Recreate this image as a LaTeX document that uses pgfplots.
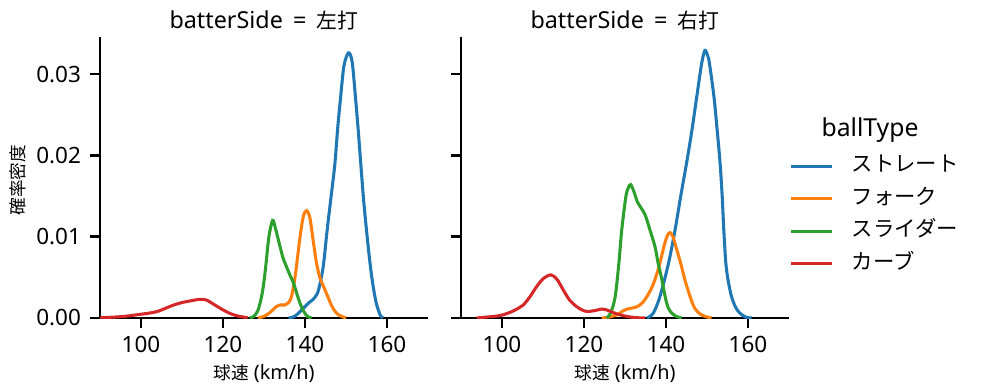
\documentclass[border=0pt]{standalone}
\usepackage{pgfplots}
\pgfplotsset{compat=1.18}
\usepackage{fontspec}
\setmainfont{Noto Sans}
\newfontfamily\jp{Noto Sans CJK JP}
\definecolor{tabblue}{HTML}{1F77B4}
\definecolor{taborange}{HTML}{FF7F0E}
\definecolor{tabgreen}{HTML}{2CA02C}
\definecolor{tabred}{HTML}{D62728}
\newcommand{\jpt}[1]{{\jp\fontsize{15}{18}\selectfont #1}}
\newcommand{\jpl}[1]{{\jp\fontsize{12.7}{15}\selectfont #1}}
\pgfplotsset{
  /pgf/number format/assume math mode=true,
  kde/.style={
    scale only axis, width=236.16pt, height=202.32pt,
    xmin=90, xmax=170, ymin=0, ymax=0.03455,
    axis lines=left, axis line style={-, line width=1.9pt, black},
    tick align=outside, major tick length=7.2pt,
    tick style={line width=1.9pt, black},
    xtick={100,120,140,160}, ytick={0,0.01,0.02,0.03},
    scaled y ticks=false,
    yticklabel style={/pgf/number format/fixed, /pgf/number format/fixed zerofill, /pgf/number format/precision=2, inner sep=0pt, xshift=-6.3pt},
    xticklabel style={inner sep=0pt, yshift=-5.8pt},
    ticklabel style={font=\fontsize{16.2}{19}\selectfont},
    title style={at={(axis description cs:0.5,1)}, anchor=base, yshift=0pt, font=\fontsize{16.8}{20}\selectfont},
    xlabel style={at={(axis description cs:0.5,0)}, anchor=base, yshift=-44.3pt, font=\fontsize{14.3}{17}\selectfont},
    ylabel style={at={(axis description cs:-0.25,0.49)}, anchor=center, font=\fontsize{14.3}{17}\selectfont},
    every axis plot/.append style={line width=2.2pt, smooth, tension=0.5},
    clip=true,
  }
}
\begin{document}
\begin{tikzpicture}
\useasboundingbox (0,0) rectangle (707.76pt,281.52pt);
% left panel
\begin{axis}[kde, at={(72pt,52.56pt)}, anchor=south west,
  title={batterSide\hspace{3pt} = \hspace{3pt}\jpt{左打}}, xlabel={\jpl{球速} (km/h)}, ylabel={\jpl{確率密度}}]
\addplot[tabblue] coordinates {
(136,0) (137,0.0001) (138,0.0004) (139,0.0009) (140,0.0014) (141,0.0019) (142,0.0023) (143,0.0030) (143.7,0.0043) (144.5,0.0065) (145.4,0.0108) (146.5,0.0155) (147.3,0.019) (148,0.0235) (148.7,0.0272) (149.5,0.031) (150.6,0.0326) (151.5,0.0315) (152.3,0.0272) (153,0.0230) (153.6,0.019) (154.3,0.0145) (155,0.0108) (155.8,0.007) (156.5,0.0043) (157.3,0.002) (158.3,0.0004) (159,0)};
\addplot[taborange] coordinates {
(128.5,0) (130,0.0002) (131.5,0.0007) (133,0.0014) (134,0.0016) (135,0.0016) (136,0.0019) (136.7,0.0026) (137.5,0.0048) (138,0.0067) (138.8,0.0100) (139.6,0.0125) (140.4,0.0132) (141.2,0.0123) (142,0.0095) (142.8,0.0068) (143.6,0.0050) (144.5,0.0039) (145.5,0.0027) (146.5,0.0015) (147.5,0.0007) (148.5,0.0003) (150,0)};
\addplot[tabgreen] coordinates {
(126.5,0) (127.5,0.0002) (128.5,0.0009) (129.4,0.0026) (130,0.0045) (130.5,0.0067) (131.2,0.0100) (132.1,0.0120) (132.8,0.0110) (133.9,0.0088) (134.7,0.0073) (135.5,0.0063) (136.3,0.0053) (137.2,0.0043) (138,0.0030) (138.8,0.0018) (139.7,0.0008) (140.6,0.0002) (141.6,0)};
\addplot[tabred] coordinates {
(90,0.00002) (93,0.0001) (96,0.0002) (99,0.0004) (102,0.0006) (104,0.0008) (106,0.0012) (108,0.0016) (110,0.0019) (112,0.0021) (114.4,0.0023) (116,0.0022) (118,0.0016) (120,0.0010) (122,0.0005) (124,0.0002) (126,0.00005)};
\end{axis}
% right panel
\begin{axis}[kde, at={(331.92pt,52.56pt)}, anchor=south west,
  title={batterSide\hspace{3pt} = \hspace{3pt}\jpt{右打}}, xlabel={\jpl{球速} (km/h)}, yticklabels={},
  legend style={at={(axis description cs:1.0,0.366)}, anchor=west, draw=none, fill=none,
    inner sep=0pt, outer sep=0pt,
    font=\fontsize{15.4}{18}\selectfont, row sep=9.4pt, column sep=13pt,
    nodes={inner sep=0pt, text height=11pt, text depth=3pt}},
  legend cell align=left,
  legend image code/.code={\draw[#1] (0pt,0pt) -- (30pt,0pt);}]
\addplot[tabblue] coordinates {
(135.4,0) (136.9,0.0006) (138.5,0.0026) (140.6,0.0067) (142.2,0.0108) (143.6,0.015) (145.0,0.019) (146.3,0.023) (147.5,0.0272) (148.7,0.0313) (149.5,0.0329) (150.2,0.0322) (150.6,0.0313) (151.7,0.0272) (152.5,0.023) (153.2,0.019) (153.7,0.015) (154.1,0.0108) (154.6,0.0067) (155.2,0.0045) (156.0,0.0026) (157,0.0013) (158,0.0006) (159.5,0.0001) (160.9,0)};
\addlegendentry{\jp ストレート}
\addplot[taborange] coordinates {
(124.3,0) (126,0.0001) (128,0.0004) (130,0.0010) (131.5,0.0012) (133,0.0014) (134.3,0.0019) (135.3,0.0026) (136.4,0.0036) (137.3,0.0047) (138.5,0.0067) (139.5,0.0088) (140.3,0.0101) (141.0,0.0105) (141.7,0.0100) (142.4,0.0088) (143.6,0.0067) (144.6,0.0047) (145.9,0.0026) (147,0.0012) (148.3,0.0005) (149.5,0.0002) (151.1,0)};
\addlegendentry{\jp フォーク}
\addplot[tabgreen] coordinates {
(125.5,0) (126.5,0.0006) (127.6,0.0026) (128.5,0.0067) (129.2,0.0108) (130.2,0.0149) (130.8,0.0160) (131.4,0.0164) (132.2,0.0155) (133,0.0143) (133.7,0.0137) (134.9,0.0127) (136.1,0.0108) (137.3,0.0088) (138.1,0.0067) (139.0,0.0047) (139.8,0.0026) (140.5,0.0013) (141.4,0.0006) (142.5,0.0002) (143.8,0)};
\addlegendentry{\jp スライダー}
\addplot[tabred] coordinates {
(93.8,0) (96,0.0001) (99.5,0.0003) (102,0.0007) (104,0.0012) (105.2,0.0016) (106.8,0.0026) (108.5,0.0039) (110.2,0.0049) (112.0,0.0053) (113.5,0.0047) (115.0,0.0034) (116.5,0.0022) (118.2,0.0014) (119.5,0.0010) (120.7,0.0008) (122.5,0.0009) (124.5,0.0011) (126,0.0009) (128,0.0005) (130.4,0.0002) (132.5,0.00005) (134.9,0)};
\addlegendentry{\jp カーブ}
\end{axis}
\node[anchor=center, font=\fontsize{17.8}{20}\selectfont] at (626.4pt,187.92pt) {ballType};
\end{tikzpicture}
\end{document}
